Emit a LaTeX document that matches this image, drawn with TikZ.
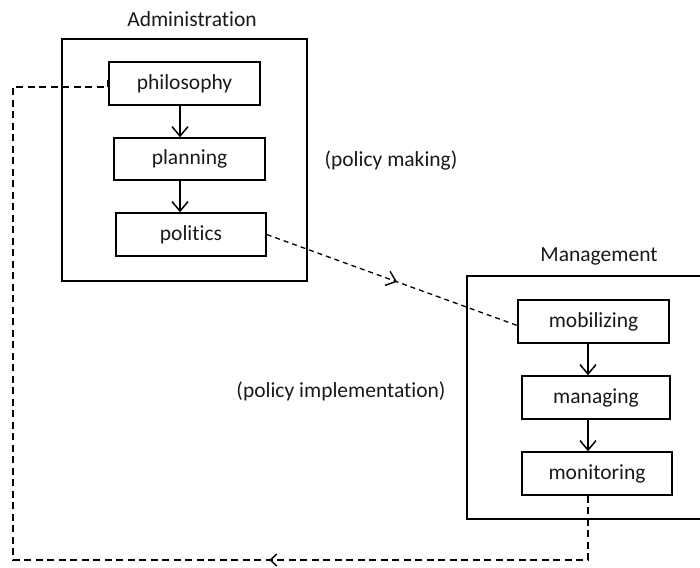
\documentclass[tikz,border=0pt]{standalone}
\usepackage{fontspec}
\setmainfont{Carlito}[Ligatures={NoCommon}]
\usetikzlibrary{arrows.meta,decorations.markings}
\begin{document}
\begin{tikzpicture}[x=1pt,y=-1pt,
  font=\fontsize{21.5}{26}\selectfont,
  every node/.style={text=black!90},
  stepbox/.style={draw, line width=1.5pt, inner sep=0pt},
  frame/.style={draw, line width=1.5pt},
  flow/.style={line width=1.5pt, -{Straight Barb[length=9.5pt,width=16pt]}},
  loopline/.style={line width=1.8pt, dash pattern=on 7pt off 4.5pt},
  linkline/.style={line width=1.3pt, dash pattern=on 5pt off 4pt}]
\useasboundingbox (0,0) rectangle (700,567);
% outer frames
\draw[frame] (62,39) rectangle (307,281);
\draw[frame] (467,276) rectangle (704,519);
\node (admin) at (192,19) {Administration};
\node (mgmt) at (599,256) {Management};
% administration steps
\node[stepbox, minimum width=151pt, minimum height=43pt] (philosophy) at (184.5,83.5) {philosophy};
\node[stepbox, minimum width=151pt, minimum height=42pt] (planning) at (189.5,159) {planning};
\node[stepbox, minimum width=150pt, minimum height=43pt] (politics) at (191,234.5) {politics};
% management steps
\node[stepbox, minimum width=151pt, minimum height=43pt] (mobilizing) at (593.5,321.5) {mobilizing};
\node[stepbox, minimum width=148pt, minimum height=43pt] (managing) at (596,397.5) {managing};
\node[stepbox, minimum width=150pt, minimum height=43pt] (monitoring) at (597,473.5) {monitoring};
% side labels
\node (making) at (391,160) {(policy making)};
\node (impl) at (341,391) {(policy implementation)};
% vertical arrows
\draw[flow] (philosophy.south -| 180,0) -- (planning.north -| 180,0);
\draw[flow] (planning.south -| 180,0) -- (politics.north -| 180,0);
\draw[flow] (mobilizing.south -| 588,0) -- (managing.north -| 588,0);
\draw[flow] (managing.south -| 588,0) -- (monitoring.north -| 588,0);
% politics -> mobilizing
\coordinate (mobin) at ([yshift=-4pt]mobilizing.west);
\draw[linkline, postaction={decorate}, decoration={markings,
  mark=at position 0.52 with {\arrow[line width=1.4pt]{Straight Barb[length=9pt,width=15pt]}}}]
  (politics.east) -- (mobin);
% feedback loop
\coordinate (phin) at ([yshift=3.5pt]philosophy.west);
\coordinate (c1) at (588,560);
\coordinate (c2) at (13,560);
\coordinate (c3) at (13,87);
\draw[loopline, postaction={decorate}, decoration={markings,
  mark=at position 383pt with {\arrow[line width=1.4pt]{Straight Barb[length=6.5pt,width=12pt]}}}]
  (monitoring.south -| c1) -- (c1) -- (c2) -- (c3) -- (c3 -| phin) -- (phin);
\end{tikzpicture}
\end{document}
